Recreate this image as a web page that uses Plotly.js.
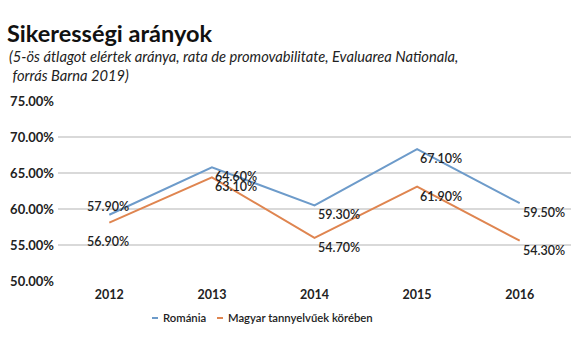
<!DOCTYPE html>
<html>
<head>
<meta charset="utf-8">
<script src="https://cdn.plot.ly/plotly-3.0.1.min.js"></script>
<style>html,body{margin:0;padding:0;background:#fff;}#chart{width:580px;height:349px;}</style>
</head>
<body>
<div id="chart"></div>
<script>
const years = ['2012', '2013', '2014', '2015', '2016'];
const romaniaValues = [59.2, 65.8, 60.5, 68.3, 60.8];
const magyarValues = [58.1, 64.4, 56.0, 63.1, 55.6];
const romaniaLabels = ['57.90%', '64.60%', '59.30%', '67.10%', '59.50%'];
const magyarLabels = ['56.90%', '63.10%', '54.70%', '61.90%', '54.30%'];
const yTicks = [50, 55, 60, 65, 70, 75];

const FONT = 'Lato, "Open Sans", sans-serif';
const labelFont = {family: FONT, size: 12.5, color: '#222', weight: 600};

const data = [
  {
    x: years, y: romaniaValues, name: 'Románia', type: 'scatter', mode: 'lines',
    line: {color: '#6d9bca', width: 2}, hoverinfo: 'skip'
  },
  {
    x: years, y: magyarValues, name: 'Magyar tannyelvűek körében', type: 'scatter', mode: 'lines',
    line: {color: '#df8550', width: 2}, hoverinfo: 'skip'
  }
];

// data labels placed next to each point (x = category serial number on the category axis)
function labelAnns(values, labels, firstShift) {
  return years.map((yr, i) => ({
    x: i, y: values[i], xref: 'x', yref: 'y', text: labels[i], showarrow: false,
    xanchor: i === 0 ? 'center' : 'left', yanchor: 'middle',
    xshift: i === 0 ? -1 : 1, yshift: i === 0 ? firstShift : -9.5,
    font: labelFont
  }));
}

const layout = {
  width: 580, height: 349,
  margin: {l: 58, r: 9, t: 101, b: 68},
  paper_bgcolor: '#fff', plot_bgcolor: '#fff',
  font: {family: FONT, color: '#222'},
  title: {
    text: '<b>Sikerességi arányok</b>',
    font: {family: FONT, size: 23.5, color: '#111', weight: 700},
    xref: 'container', x: 0.012, xanchor: 'left',
    yref: 'container', y: 0.903, yanchor: 'middle'
  },
  annotations: [{
    text: '<i>(5-ös átlagot elértek aránya, rata de promovabilitate, Evaluarea Nationala,<br> forrás Barna 2019)</i>',
    xref: 'paper', yref: 'paper', x: -0.1, xanchor: 'left',
    y: 1.313, yanchor: 'top', align: 'left', showarrow: false,
    font: {family: FONT, size: 14.7, color: '#222'}
  }].concat(labelAnns(romaniaValues, romaniaLabels, 8.5), labelAnns(magyarValues, magyarLabels, -18.7)),
  xaxis: {
    type: 'category', range: [-0.5, 4.5],
    showgrid: false, zeroline: false, showline: false,
    ticks: '', ticklabelstandoff: 4,
    tickfont: {family: FONT, size: 12.5, color: '#222', weight: 700},
    fixedrange: true
  },
  yaxis: {
    range: [50, 75], tickvals: yTicks, ticktext: yTicks.map(v => v.toFixed(2) + '%'),
    showgrid: true, gridcolor: '#d9d9d9', gridwidth: 1.5, zeroline: false,
    showline: false, ticks: '', ticklabelstandoff: 3,
    tickfont: {family: FONT, size: 13, color: '#222', weight: 700},
    fixedrange: true
  },
  showlegend: true,
  legend: {
    orientation: 'h', x: 0.1267, xanchor: 'left', y: -0.205, yanchor: 'middle',
    font: {family: FONT, size: 11.3, color: '#222', weight: 600},
    itemwidth: 30, bgcolor: 'rgba(0,0,0,0)'
  }
};

Plotly.newPlot('chart', data, layout, {staticPlot: true, displayModeBar: false}).then(gd => {
  // Excel-style short legend dashes, tighter item spacing
  const items = gd.querySelectorAll('.legend .traces');
  items.forEach(it => {
    it.querySelectorAll('.legendlines path').forEach(p => p.setAttribute('d', 'M29,0h6'));
  });
  if (items.length > 1) {
    const m0 = /translate\(([-\d.]+)[ ,]+([-\d.]+)\)/.exec(items[0].getAttribute('transform') || '');
    const m1 = /translate\(([-\d.]+)[ ,]+([-\d.]+)\)/.exec(items[1].getAttribute('transform') || '');
    if (m0 && m1) {
      items[1].setAttribute('transform', 'translate(' + (parseFloat(m0[1]) + 65) + ',' + m1[2] + ')');
    }
  }
});
</script>
</body>
</html>
